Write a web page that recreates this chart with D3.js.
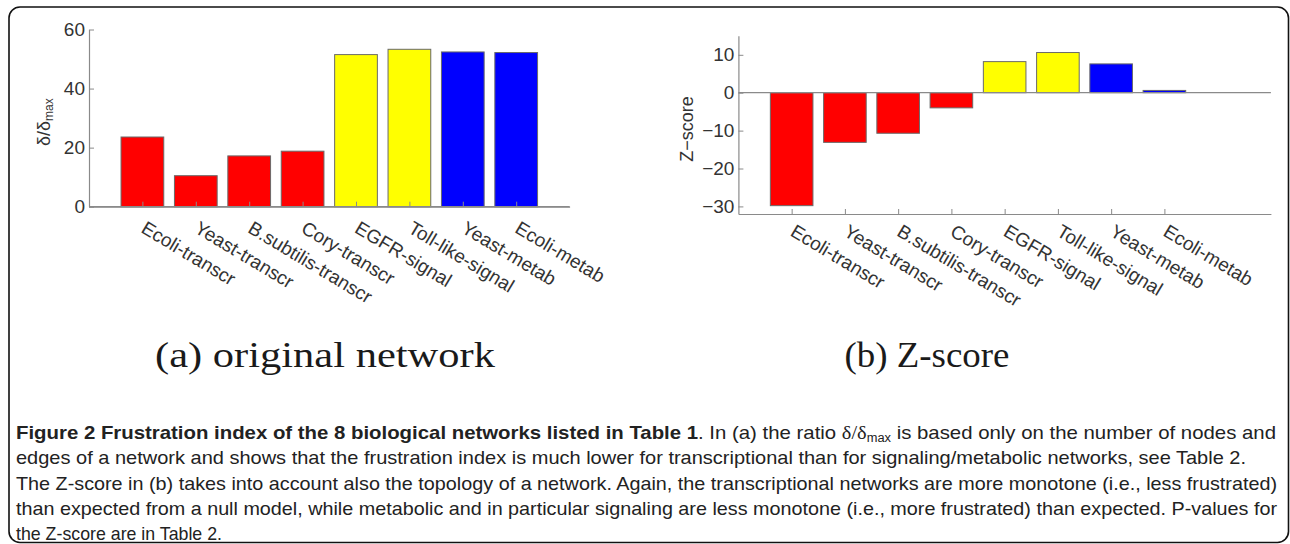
<!DOCTYPE html>
<html><head><meta charset="utf-8">
<script src="https://cdn.jsdelivr.net/npm/d3@7"></script>
<style>
html,body{margin:0;padding:0;background:#fff;}
svg{display:block;}
</style></head><body>
<svg id="c" width="1290" height="544"></svg>
<script>
// ---------- data ----------
const categories = ["Ecoli-transcr","Yeast-transcr","B.subtilis-transcr","Cory-transcr","EGFR-signal","Toll-like-signal","Yeast-metab","Ecoli-metab"];
const groups = ["transcr","transcr","transcr","transcr","signal","signal","metab","metab"];
const ratioValues = [23.6, 10.5, 17.2, 18.8, 51.5, 53.3, 52.4, 52.2];
const zscoreValues = [-29.8, -13.1, -10.7, -4.0, 8.2, 10.6, 7.6, 0.6];
const ratioTicks = [0, 20, 40, 60];
const zscoreTicks = [-30, -20, -10, 0, 10];
const groupColors = {transcr: "#ff0000", signal: "#ffff00", metab: "#0000ff"};
const panelTitles = ["(a) original network", "(b) Z-score"];
const captionLines = [
  [{t: "Figure 2 Frustration index of the 8 biological networks listed in Table 1", b: true},
   {t: ". In (a) the ratio "}, {t: "δ/δ", serif: true}, {t: "max", sub: true},
   {t: " is based only on the number of nodes and"}],
  [{t: "edges of a network and shows that the frustration index is much lower for transcriptional than for signaling/metabolic networks, see Table 2."}],
  [{t: "The Z-score in (b) takes into account also the topology of a network. Again, the transcriptional networks are more monotone (i.e., less frustrated)"}],
  [{t: "than expected from a null model, while metabolic and in particular signaling are less monotone (i.e., more frustrated) than expected. P-values for"}],
  [{t: "the Z-score are in Table 2."}]
];
const captionWidths = [1260, 1230, 1261, 1261, 206];

// ---------- drawing ----------
const svg = d3.select("#c");
const axisFont = "'Liberation Sans', Arial, Helvetica, sans-serif";
const axisGray = "#8a8a8a";
const textGray = "#333";

svg.append("rect").attr("x", 9).attr("y", 7).attr("width", 1279.5).attr("height", 535.5)
  .attr("rx", 11).attr("fill", "none").attr("stroke", "#111").attr("stroke-width", 1.6);

function panel(opt) {
  const g = svg.append("g");
  const x = d3.scaleLinear().domain([0, opt.xMax]).range([opt.x0, opt.x1]);
  const y = d3.scaleLinear().domain(opt.yDomain).range([opt.yBot, opt.yTop]);
  const n = categories.length;
  const idx = d3.range(1, n + 1);

  // bars
  g.selectAll("rect.bar").data(opt.values).join("rect").attr("class", "bar")
    .attr("x", (d, i) => x(i + 1 - 0.4))
    .attr("width", (d, i) => x(i + 1 + 0.4) - x(i + 1 - 0.4))
    .attr("y", d => y(Math.max(0, d)))
    .attr("height", d => Math.abs(y(d) - y(0)))
    .attr("fill", (d, i) => groupColors[groups[i]])
    .attr("stroke", "#6a6a6a").attr("stroke-width", 1);

  // baseline at zero
  g.append("line").attr("x1", x(0)).attr("x2", x(opt.xMax))
    .attr("y1", y(0)).attr("y2", y(0)).attr("stroke", axisGray).attr("stroke-width", 1.2);

  // y axis
  const ya = g.append("g").attr("transform", `translate(${x(0)},0)`)
    .call(d3.axisLeft(y).tickValues(opt.ticks).tickSizeInner(-5).tickSizeOuter(0).tickPadding(4));
  ya.select(".domain").attr("stroke", axisGray).attr("stroke-width", 1.2);
  ya.selectAll(".tick line").attr("stroke", axisGray);
  ya.selectAll(".tick text").attr("x", -4).attr("font-family", axisFont).attr("font-size", 19).attr("fill", textGray);

  // x axis
  const xa = g.append("g").attr("transform", `translate(0,${y(opt.yDomain[0])})`)
    .call(d3.axisBottom(x).tickValues(idx).tickSizeInner(-5).tickSizeOuter(0)
      .tickFormat(i => categories[i - 1]));
  xa.select(".domain").attr("stroke", axisGray).attr("stroke-width", 1.2);
  xa.selectAll(".tick line").attr("stroke", axisGray);
  xa.selectAll(".tick text")
    .attr("x", 0).attr("y", 0).attr("dy", 0)
    .attr("transform", `translate(-3,${opt.labelDrop}) rotate(31)`)
    .attr("text-anchor", "start")
    .attr("font-family", axisFont).attr("font-size", 19).attr("fill", textGray);

  // y label
  const yl = g.append("text")
    .attr("transform", `translate(${opt.ylabelX},${(opt.yTop + opt.yBot) / 2 + 4}) rotate(-90)`)
    .attr("text-anchor", "middle").attr("font-family", axisFont).attr("font-size", 18).attr("fill", textGray);
  opt.ylabel.forEach(s => {
    const t = yl.append("tspan").text(s.t);
    if (s.sub) t.attr("font-size", 12).attr("baseline-shift", "-25%");
  });

  // panel title
  svg.append("text").attr("x", opt.titleX).attr("y", 367)
    .attr("text-anchor", "middle")
    .attr("font-family", "'Liberation Serif', 'Times New Roman', serif")
    .attr("font-size", 36).attr("fill", "#1a1a1a")
    .attr("textLength", opt.titleW).attr("lengthAdjust", "spacingAndGlyphs")
    .text(opt.title);
}

panel({x0: 89, x1: 89 + 53.4 * 9, xMax: 9, yTop: 29.5, yBot: 206.7, yDomain: [0, 60],
  values: ratioValues, ticks: ratioTicks, labelDrop: 25,
  ylabel: [{t: "δ/δ"}, {t: "max", sub: true}], ylabelX: 50,
  title: panelTitles[0], titleX: 325, titleW: 340});

panel({x0: 738.4, x1: 738.4 + 53.25 * 10, xMax: 10, yTop: 35.85, yBot: 214, yDomain: [-32, 15],
  values: zscoreValues, ticks: zscoreTicks, labelDrop: 21,
  ylabel: [{t: "Z\u2212score"}], ylabelX: 693,
  title: panelTitles[1], titleX: 927, titleW: 165});

// caption
const capFont = "'Liberation Sans', Arial, sans-serif";
captionLines.forEach((line, li) => {
  const t = svg.append("text").attr("x", 16).attr("y", 439 + li * 25.3)
    .attr("font-family", capFont).attr("font-size", 19).attr("fill", "#222")
    .attr("textLength", captionWidths[li]).attr("lengthAdjust", "spacingAndGlyphs");
  line.forEach(s => {
    const ts = t.append("tspan").text(s.t);
    if (s.b) ts.attr("font-weight", "bold");
    if (s.serif) ts.attr("font-family", "'Liberation Serif', serif").attr("font-size", 19);
    if (s.sub) ts.attr("font-size", 12).attr("baseline-shift", "-25%");
  });
});
</script>
</body></html>
